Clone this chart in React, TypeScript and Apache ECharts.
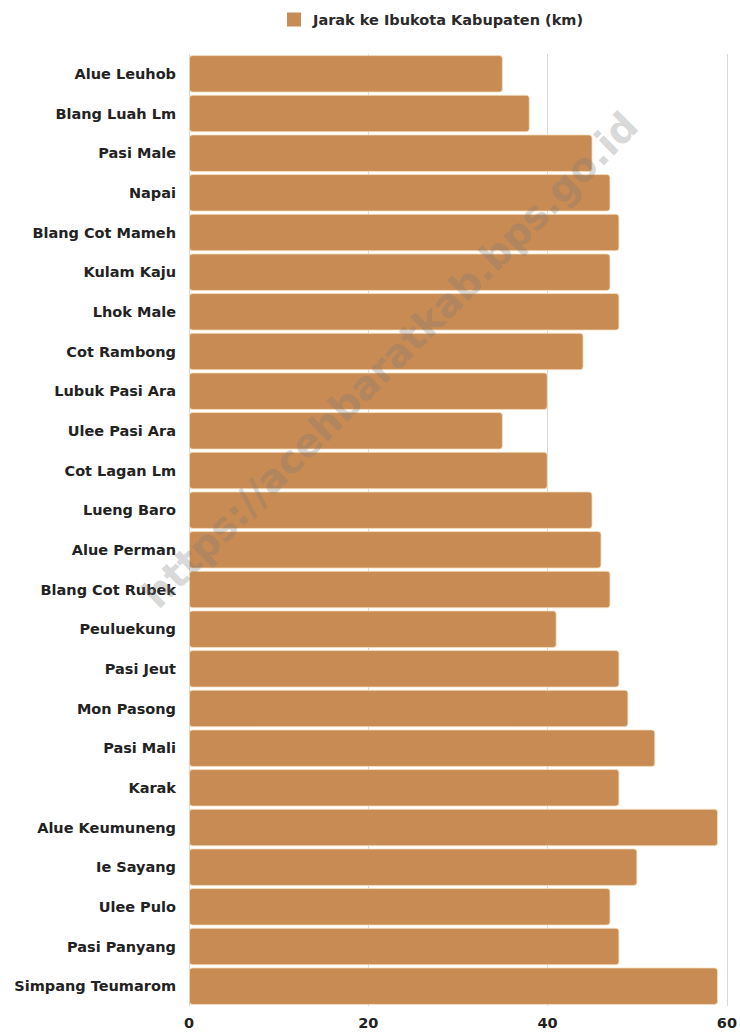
import React, { useEffect, useRef } from "react";
import * as echarts from "echarts";

const categories = [
  "Alue Leuhob",
  "Blang Luah Lm",
  "Pasi Male",
  "Napai",
  "Blang Cot Mameh",
  "Kulam Kaju",
  "Lhok Male",
  "Cot Rambong",
  "Lubuk Pasi Ara",
  "Ulee Pasi Ara",
  "Cot Lagan Lm",
  "Lueng Baro",
  "Alue Perman",
  "Blang Cot Rubek",
  "Peuluekung",
  "Pasi Jeut",
  "Mon Pasong",
  "Pasi Mali",
  "Karak",
  "Alue Keumuneng",
  "Ie Sayang",
  "Ulee Pulo",
  "Pasi Panyang",
  "Simpang Teumarom",
];

const jarak = [35, 38, 45, 47, 48, 47, 48, 44, 40, 35, 40, 45, 46, 47, 41, 48, 49, 52, 48, 59, 50, 47, 48, 59];

const seriesName = "Jarak ke Ibukota Kabupaten (km)";
const watermark = "https://acehbaratkab.bps.go.id";

const FONT = "'DejaVu Sans', 'Open Sans', sans-serif";

export default function App() {
  const ref = useRef<HTMLDivElement>(null);
  useEffect(() => {
    if (!ref.current) return;
    const chart = echarts.init(ref.current, null, { renderer: "svg" });
    chart.setOption({
      animation: false,
      textStyle: { fontFamily: FONT },
      legend: {
        top: 7,
        left: 282,
        itemWidth: 14,
        itemHeight: 14,
        icon: "rect",
        itemStyle: { borderWidth: 0, borderRadius: 1 },
        textStyle: { fontSize: 14.5, color: "#2a2a2a", fontFamily: FONT, fontWeight: "bold", padding: [0, 0, 0, 7] },
        data: [seriesName],
      },
      grid: { left: 189, right: 13, top: 54, bottom: 27, containLabel: false },
      xAxis: {
        type: "value",
        min: 0,
        max: 60,
        interval: 20,
        axisLine: { show: false },
        axisTick: { show: false },
        splitLine: { show: true, lineStyle: { color: "#d9d9d9", width: 1 } },
        axisLabel: { fontSize: 14.5, color: "#222", margin: 9, fontFamily: FONT, fontWeight: "bold" },
      },
      yAxis: {
        type: "category",
        inverse: true,
        data: categories,
        axisLine: { show: false },
        axisTick: { show: false },
        axisLabel: { fontSize: 14.5, color: "#222", margin: 13, fontFamily: FONT, fontWeight: "bold" },
      },
      series: [
        {
          name: seriesName,
          type: "bar",
          data: jarak,
          barCategoryGap: "6%",
          itemStyle: { color: "#C88B53", borderRadius: 3, borderColor: "#F6E2C2", borderWidth: 0.8 },
        },
      ],
      graphic: [
        {
          type: "text",
          x: 390,
          y: 360,
          rotation: Math.PI / 4,
          z: 100,
          silent: true,
          style: {
            text: watermark,
            font: "bold 39px " + FONT,
            fill: "rgba(120,120,120,0.3)",
            textAlign: "center",
            textVerticalAlign: "middle",
          },
        },
      ],
    });
    return () => chart.dispose();
  }, []);
  return <div ref={ref} style={{ width: 740, height: 1033, position: "absolute", left: 0, top: 0 }} />;
}
